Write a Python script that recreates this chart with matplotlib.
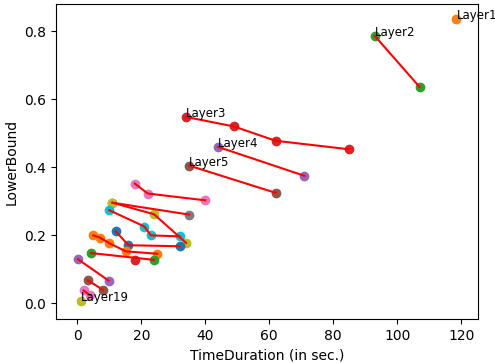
import matplotlib.pyplot as plt

# one entry per layer: run times and lower bounds
times = [
    [118.5],
    [93, 107],
    [34, 49, 62, 85],
    [44, 71],
    [35, 62],
    [18, 22, 40],
    [11, 35],
    [11, 24, 34],
    [10, 21, 23, 32],
    [12, 16, 32],
    [5, 7.2, 10, 15.2, 25],
    [4.3, 24],
    [18],
    [0.2, 9.8],
    [3.3, 8],
    [2, 4],
    [],
    [],
    [1.1],
]
bounds = [
    [0.835],
    [0.786, 0.636],
    [0.548, 0.52, 0.478, 0.453],
    [0.46, 0.375],
    [0.405, 0.325],
    [0.352, 0.323, 0.303],
    [0.296, 0.261],
    [0.296, 0.262, 0.178],
    [0.274, 0.226, 0.2, 0.197],
    [0.212, 0.171, 0.168],
    [0.2, 0.193, 0.177, 0.153, 0.146],
    [0.148, 0.128],
    [0.128],
    [0.13, 0.067],
    [0.068, 0.04],
    [0.038, 0.024],
    [],
    [],
    [0.006],
]
colors = ['C1', 'C2', 'C3', 'C4', 'C5', 'C6', 'C7', 'C8', 'C9', 'C0',
          'C1', 'C2', 'C3', 'C4', 'C5', 'C6', 'C7', 'C8', 'C8']
labeled = [1, 2, 3, 4, 5, 19]

fig = plt.figure(figsize=(4.95, 3.63), dpi=100)
ax = fig.add_axes([0.1125, 0.121, 0.8535, 0.868])

for i in range(len(times)):
    t = times[i]
    lb = bounds[i]
    if len(t) == 0:
        continue
    ax.scatter(t, lb, color=colors[i])
    if len(t) > 1:
        ax.plot(t, lb, color='red')
    if i + 1 in labeled:
        ax.text(t[0], lb[0], 'Layer%d' % (i + 1), fontsize=8.5)

ax.set_xlim(-6.75, 125.3)
ax.set_ylim(-0.046, 0.88)
ax.set_xlabel('TimeDuration (in sec.)')
ax.set_ylabel('LowerBound')
fig.savefig('out.png')
